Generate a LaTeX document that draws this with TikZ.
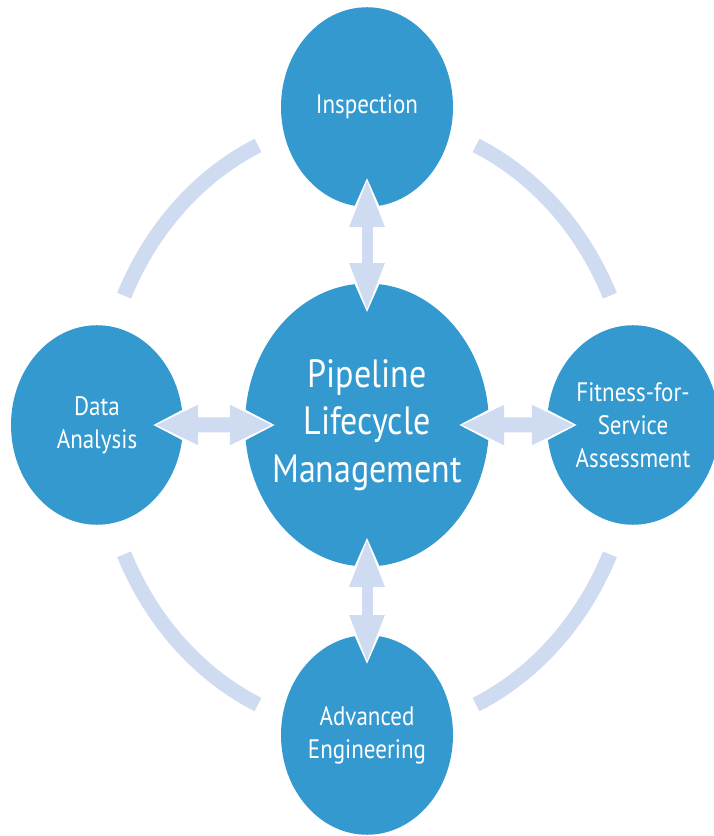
\documentclass[tikz,border=0pt]{standalone}
\usepackage{fontspec}
\setsansfont{PT Sans}
\usetikzlibrary{arrows.meta}
\definecolor{pipeblue}{RGB}{51,153,207}
\definecolor{ringblue}{RGB}{206,219,240}

\begin{document}
\begin{tikzpicture}[x=1pt, y=1pt,
  blob/.style={circle, fill=pipeblue, text=white, inner sep=0pt, minimum size=172pt, yscale=1.16, align=center, font=\sffamily\fontsize{23}{28.5}\selectfont},
  hub/.style={blob, minimum size=244pt, font=\sffamily\fontsize{34}{41}\selectfont},
  ring/.style={draw=ringblue, line width=15pt},
  vlink/.style={draw=ringblue, line width=11pt, shorten <=-28pt, shorten >=-28pt, {Triangle[length=48pt,width=32pt]}-{Triangle[length=48pt,width=32pt]}},
  vhalo/.style={draw=white, line width=17pt, shorten <=-31pt, shorten >=-31pt, {Triangle[length=55pt,width=42pt]}-{Triangle[length=55pt,width=42pt]}},
  hlink/.style={draw=ringblue, line width=15pt, shorten <=-28pt, shorten >=-28pt, {Triangle[length=43pt,width=37pt]}-{Triangle[length=43pt,width=37pt]}},
  hhalo/.style={draw=white, line width=21pt, shorten <=-31pt, shorten >=-31pt, {Triangle[length=50pt,width=47pt]}-{Triangle[length=50pt,width=47pt]}}]
\useasboundingbox (0,0) rectangle (713,836);
\node[hub] (pipe) at (367,411) {Pipeline\\Lifecycle\\Management};
\node[blob] (insp) at (367,729) {Inspection};
\node[blob] (data) at (97,411) {Data\\Analysis};
\node[blob] (fit) at (633,411) {Fitness-for-\\Service\\Assessment};
\node[blob] (adv) at (367,101) {Advanced\\Engineering};
\foreach \s in {25,114,205,294}
  \draw[ring] (pipe.center) ++(\s:268 and 306) arc[start angle=\s, delta angle=41, x radius=268, y radius=306];
\foreach \a/\b/\t in {insp/pipe/v, pipe/adv/v, data/pipe/h, pipe/fit/h} {
  \draw[\t halo] (\a) -- (\b);
  \draw[\t link] (\a) -- (\b);
}
\end{tikzpicture}
\end{document}
